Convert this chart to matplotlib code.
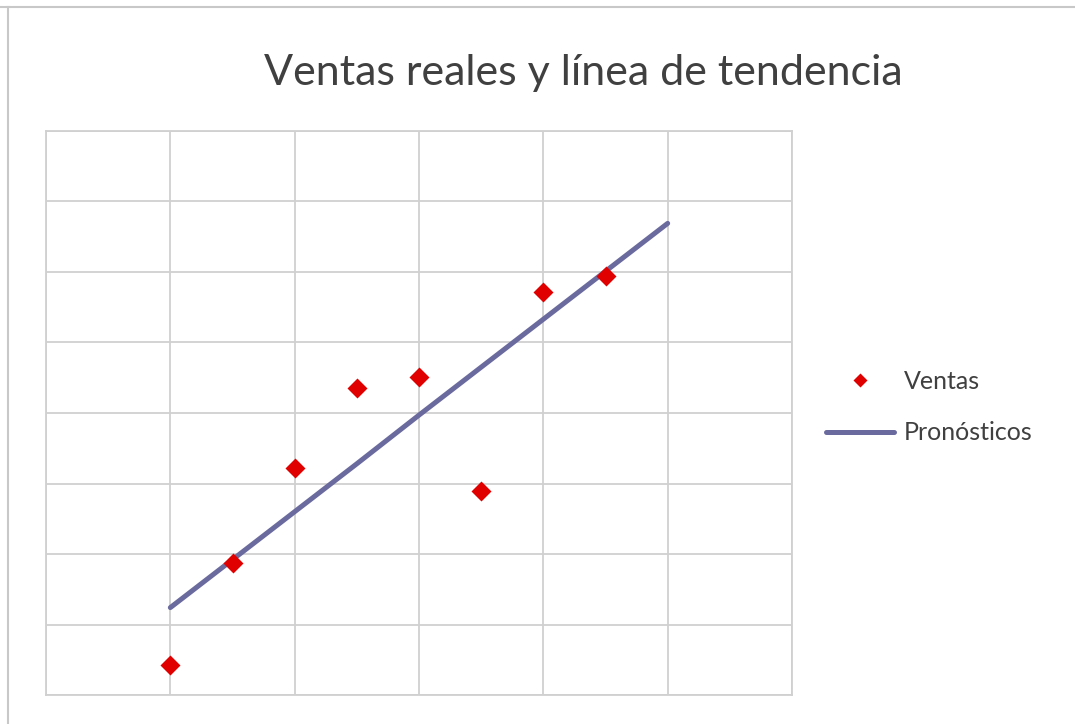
import matplotlib
matplotlib.use("Agg")
import matplotlib.pyplot as plt
from matplotlib.lines import Line2D

# Data
periodos = [2, 3, 4, 5, 6, 7, 8, 9]
ventas = [4.3, 18.7, 32.2, 43.6, 45.1, 29.0, 57.2, 59.5]
periodos_pron = [2, 3, 4, 5, 6, 7, 8, 9, 10]
pronosticos = [12.4, 19.2, 26.0, 32.8, 39.7, 46.5, 53.3, 60.1, 66.9]

x_ticks = [0, 2, 4, 6, 8, 10, 12]
y_ticks = [0, 10, 20, 30, 40, 50, 60, 70, 80]

plt.rcParams["font.family"] = ["Lato", "DejaVu Sans"]

fig = plt.figure(figsize=(10.75, 7.24), dpi=100)
ax = fig.add_axes([46 / 1075, 1 - 695 / 724, 746 / 1075, 564 / 724])

grid_color = "#d0d0d0"
line_color = "#6a6a9e"
mark_color = "#e00000"

ax.plot(periodos_pron, pronosticos, color=line_color, lw=3.6,
        solid_capstyle="round", label="Pronósticos", zorder=3)
ax.plot(periodos, ventas, linestyle="none", marker="D", ms=10.5,
        color=mark_color, mec="none", label="Ventas", zorder=4)

ax.set_xlim(x_ticks[0], x_ticks[-1])
ax.set_ylim(y_ticks[0], y_ticks[-1])
ax.set_xticks(x_ticks)
ax.set_yticks(y_ticks)
ax.tick_params(length=0, labelbottom=False, labelleft=False)
ax.grid(True, color=grid_color, lw=1.3)
ax.set_axisbelow(True)
for s in ax.spines.values():
    s.set_color(grid_color)
    s.set_linewidth(1.3)

# legend on the right
h = [Line2D([], [], linestyle="none", marker="D", ms=7.5, color=mark_color, mec="none"),
     Line2D([], [], color=line_color, lw=3.6, solid_capstyle="round")]
fig.legend(h, ["Ventas", "Pronósticos"], loc="center left",
           bbox_to_anchor=(826 / 1075, 1 - 407 / 724), frameon=False,
           borderpad=0, borderaxespad=0,
           fontsize=18, handlelength=2.7, handletextpad=0.4,
           labelspacing=1.15, labelcolor="#404040")

fig.text(583 / 1075, 1 - 73 / 724, "Ventas reales y línea de tendencia",
         ha="center", va="center", fontsize=31, color="#404040")

# outer chart frame (top and left only visible)
fig.add_artist(Line2D([0, 1], [1 - 7 / 724, 1 - 7 / 724],
                      transform=fig.transFigure, color="#c8c8c8", lw=1.5))
fig.add_artist(Line2D([8 / 1075, 8 / 1075], [0, 1 - 7 / 724],
                      transform=fig.transFigure, color="#c8c8c8", lw=1.5))

fig.savefig("out.png", dpi=100, facecolor="white")
